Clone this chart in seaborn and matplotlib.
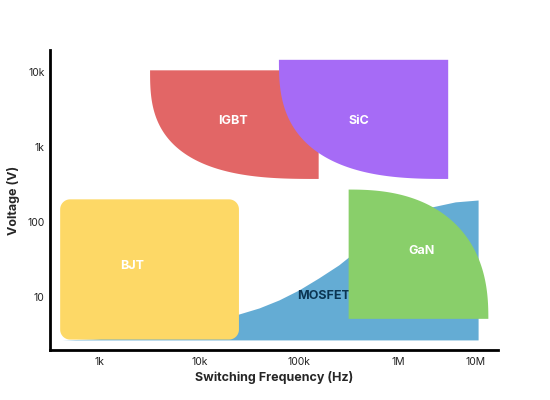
import numpy as np
import seaborn as sns
import matplotlib.pyplot as plt
import matplotlib.transforms as mtransforms

# Region extents (Hz, V)
bjt_freq = [400, 25000]
bjt_volt = [2.7, 200]

mosfet_freq = [417, 850, 1860, 3980, 8510, 25100, 39800, 63100, 100000, 158000,
               251000, 316000, 631000, 1120000, 2140000, 3720000, 6310000]
mosfet_top = [2.67, 2.75, 2.93, 3.31, 3.98, 5.93, 7.13, 9.12, 12.4, 17.9,
              26.7, 34.1, 65, 106, 158, 185, 196]
mosfet_base = 2.67

igbt_freq = [3200, 158000]
igbt_volt = [374, 10500]

sic_freq = [63000, 3160000]
sic_volt = [374, 14500]

gan_freq = [316000, 8000000]
gan_volt = [5.1, 270]

labels = ['BJT', 'MOSFET', 'IGBT', 'SiC', 'GaN']
label_freq = [2100, 178000, 22000, 400000, 1700000]
label_volt = [26, 10.3, 2200, 2200, 41]

x_ticks = [1e3, 1e4, 1e5, 1e6, 1e7]
x_tick_labels = ['1k', '10k', '100k', '1M', '10M']
y_ticks = [10, 100, 1000, 10000]
y_tick_labels = ['10', '100', '1k', '10k']

colors = {'BJT': '#FDD866', 'MOSFET': '#64ACD4', 'IGBT': '#E26666',
          'SiC': '#A66BF6', 'GaN': '#89CF6A'}

sns.set_theme(style='white')
plt.rcParams['font.family'] = ['Inter', 'DejaVu Sans']

fig = plt.figure(figsize=(5.5, 4), dpi=100)
ax = fig.add_axes([50 / 550, 50 / 400, 448 / 550, 300 / 400])
ax.set_xscale('log')
ax.set_yscale('log')
ax.set_xlim(10 ** 2.5, 10 ** 6.98)
ax.set_ylim(1.96, 19600)


def quarter_blob(freq, volt, corner, n):
    # superellipse quadrant in log space, centre at the given corner
    lx = np.log10(freq)
    ly = np.log10(volt)
    rx = lx[1] - lx[0]
    ry = ly[1] - ly[0]
    t = np.linspace(0, np.pi / 2, 100)
    c = np.cos(t) ** (2 / n)
    s = np.sin(t) ** (2 / n)
    if corner == 'top-right':
        cx, cy = lx[1], ly[1]
        px = cx - rx * c
        py = cy - ry * s
    else:
        cx, cy = lx[0], ly[0]
        px = cx + rx * s
        py = cy + ry * c
    px = np.concatenate([[cx], px])
    py = np.concatenate([[cy], py])
    return 10 ** px, 10 ** py


def rounded_box(freq, volt, rx=0.1, ry=0.133):
    x0, x1 = np.log10(freq)
    y0, y1 = np.log10(volt)
    t = np.linspace(0, np.pi / 2, 15)
    xs, ys = [], []
    for cx, cy, a0 in [(x1 - rx, y0 + ry, -np.pi / 2), (x1 - rx, y1 - ry, 0),
                       (x0 + rx, y1 - ry, np.pi / 2), (x0 + rx, y0 + ry, np.pi)]:
        xs.extend(cx + rx * np.cos(a0 + t))
        ys.extend(cy + ry * np.sin(a0 + t))
    return 10 ** np.array(xs), 10 ** np.array(ys)


bx, by = rounded_box(bjt_freq, bjt_volt)
ax.fill(bx, by, color=colors['BJT'], lw=0, zorder=2)

ax.fill_between(mosfet_freq, mosfet_base, mosfet_top, color=colors['MOSFET'], lw=0, zorder=1)

ix, iy = quarter_blob(igbt_freq, igbt_volt, 'top-right', 2.8)
ax.fill(ix, iy, color=colors['IGBT'], lw=0, zorder=2)

sx, sy = quarter_blob(sic_freq, sic_volt, 'top-right', 2.7)
ax.fill(sx, sy, color=colors['SiC'], lw=0, zorder=3)

gx, gy = quarter_blob(gan_freq, gan_volt, 'bottom-left', 2.4)
ax.fill(gx, gy, color=colors['GaN'], lw=0, zorder=4)

for name, fx, vy in zip(labels, label_freq, label_volt):
    c = '#0B3552' if name == 'MOSFET' else 'white'
    ax.text(fx, vy, name, ha='center', va='center', fontsize=9,
            fontweight='bold', color=c, zorder=3.5 if name == 'MOSFET' else 5)

ax.set_xticks(x_ticks)
ax.set_xticklabels(x_tick_labels)
ax.set_yticks(y_ticks)
ax.set_yticklabels(y_tick_labels)
ax.minorticks_off()
ax.tick_params(length=0, labelsize=7.5, colors='#222222')
ax.tick_params(axis='x', pad=5)
ax.tick_params(axis='y', pad=4)
# keep the last frequency label inside the axis end
last = ax.get_xticklabels()[-1]
last.set_transform(last.get_transform() + mtransforms.ScaledTranslation(-16 / 72, 0, fig.dpi_scale_trans))

ax.set_xlabel('Switching Frequency (Hz)', fontsize=9, fontweight='bold', labelpad=3)
ax.set_ylabel('Voltage (V)', fontsize=9, fontweight='bold', labelpad=5)

sns.despine(ax=ax)
for s in ['left', 'bottom']:
    ax.spines[s].set_color('black')
    ax.spines[s].set_linewidth(2)

fig.savefig('out.png', dpi=100)
